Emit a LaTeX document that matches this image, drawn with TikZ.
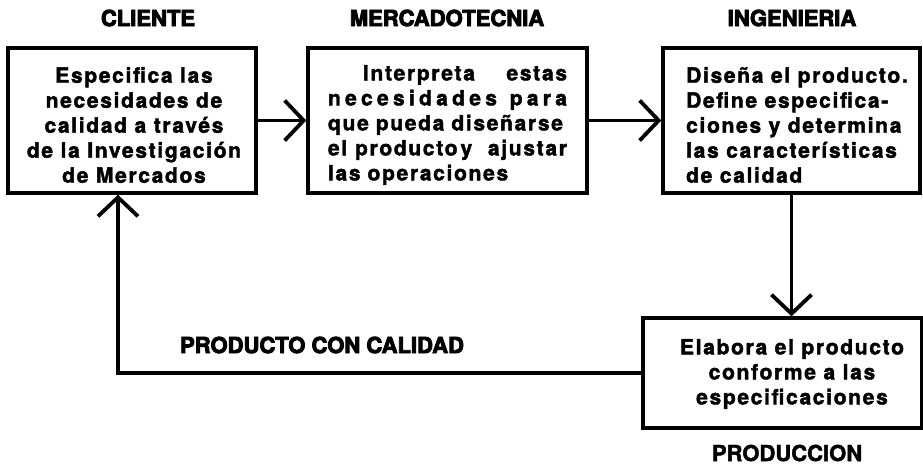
\documentclass[tikz,border=0pt]{standalone}
\usepackage{fontspec}
\setmainfont{TeX Gyre Heros}
\newfontfamily\headfont{texgyreheros-bold.otf}[FakeBold=4]
\newfontfamily\headfontb{texgyreheros-bold.otf}[FakeBold=2]
\newfontfamily\bodyff{texgyreheros-bold.otf}[FakeBold=2, LetterSpace=8]
\usetikzlibrary{arrows.meta}
\newcommand{\bodyfont}{\bodyff\fontsize{21}{25}\selectfont}
\begin{document}
\begin{tikzpicture}[x=1pt,y=-1pt,
  box/.style={draw, line width=3.4pt, inner sep=0pt},
  body/.style={font=\bodyfont, inner sep=0pt},
  head/.style={font=\headfont\fontsize{22}{26}\selectfont, inner sep=0pt},
  arr/.style={line width=3.8pt, -{Straight Barb[length=19pt,width=40pt]}}]
\useasboundingbox (0,0) rectangle (923,464);

% boxes
\node[box, minimum width=248pt, minimum height=145pt] (cli) at (132,120.5) {};
\node[box, minimum width=279pt, minimum height=145pt] (mer) at (447.5,120.5) {};
\node[box, minimum width=257pt, minimum height=145pt] (ing) at (791.5,120.5) {};
\node[box, minimum width=279pt, minimum height=110pt] (prod) at (782.5,373) {};

% box texts
\node[body, align=center] (clit) at (134,125) {Especifica las\\necesidades de\\calidad a través\\de la Investigación\\de Mercados};
\node[body, align=left, text width=239pt] (mert) at (447.5,125) {%
\makebox[239pt][s]{\hspace{35pt}Interpreta\hfill estas}\\
\makebox[239pt][s]{n\hfil e\hfil c\hfil e\hfil s\hfil i\hfil d\hfil a\hfil d\hfil e\hfil s\hfil\hfil\hfil p\hfil a\hfil r\hfil a}\\
\makebox[239pt][s]{que pueda diseñarse}\\
\makebox[239pt][s]{el\hfil producto\hspace{3pt}y\hfil\hfil ajustar}\\
las operaciones};
\node[body, align=left, anchor=west] (ingt) at (686,125) {Diseña el producto.\\Define especifica-\\ciones y determina\\las características\\de calidad};
\node[body, align=center] (prodt) at (792,374) {Elabora el producto\\conforme a las\\especificaciones};

% headings
\node[head] (hcli) at (148,18) {CLIENTE};
\node[head] (hmer) at (447,18) {MERCADOTECNIA};
\node[head] (hing) at (792,18) {INGENIERIA};
\node[head] (hpcc) at (322,345) {PRODUCTO CON CALIDAD};
\node[font=\headfontb\fontsize{22}{26}\selectfont, inner sep=0pt] (hprod) at (787,453) {PRODUCCION};

% connectors
\coordinate (ret) at (118,0);
\draw[arr] (cli.east) -- (mer.west);
\draw[arr] (mer.east) -- (ing.west);
\draw[arr] (ing.south) -- (ing.south |- prod.north);
\draw[arr] (prod.west) -| (cli.south -| ret);
\end{tikzpicture}
\end{document}
